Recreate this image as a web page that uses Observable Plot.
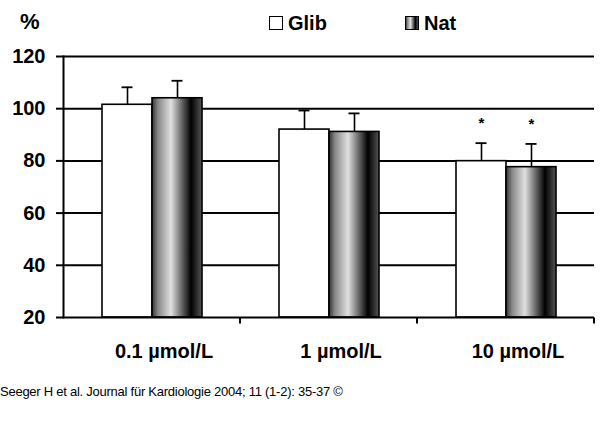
<!DOCTYPE html>
<html><head><meta charset="utf-8">
<script src="https://cdn.jsdelivr.net/npm/d3@7"></script>
<script src="https://cdn.jsdelivr.net/npm/@observablehq/plot@0.6"></script>
<style>
body{margin:0;background:#fff;font-family:"Liberation Sans",Arial,sans-serif;}
#wrap{position:relative;width:600px;height:426px;background:#fff;}
#ylab{position:absolute;left:20px;top:9px;font-size:22px;font-weight:bold;line-height:26px;}
.leg{position:absolute;top:11px;font-size:20px;font-weight:bold;line-height:24px;display:flex;align-items:center;}
.sw{display:inline-block;width:12px;height:12px;border:1.5px solid #000;margin-right:5px;}
.sw.glib{background:#fff;}
.sw.nat{background:linear-gradient(to right,#333 0%,#888 12%,#e0e0e0 38%,#000 78%,#555 100%);}
#chart{position:absolute;left:0;top:0;}
#cap{position:absolute;left:0;top:384px;font-size:13px;letter-spacing:-0.25px;line-height:16px;color:#000;white-space:nowrap;}
</style></head><body>
<div id="wrap">
 <div id="chart"></div>
 <div id="ylab">%</div>
 <div class="leg" style="left:269px"><span class="sw glib"></span>Glib</div>
 <div class="leg" style="left:405px"><span class="sw nat"></span>Nat</div>
 <div id="cap">Seeger H et al. Journal für Kardiologie 2004; 11 (1-2): 35-37 ©</div>
</div>
<script>
const categories = ["0.1 µmol/L", "1 µmol/L", "10 µmol/L"];
const series = ["Glib", "Nat"];
const glibValues = [101.5, 92.0, 79.9];
const natValues = [104.0, 91.1, 77.6];
const glibErrors = [6.7, 7.3, 6.9];
const natErrors = [6.7, 7.1, 8.9];
const glibSignificant = [false, false, true];
const natSignificant = [false, false, true];
const yTicks = [20, 40, 60, 80, 100, 120];
const baseline = 20;

const rows = categories.flatMap((c, i) => [
  {category: c, series: "Glib", value: glibValues[i], err: glibErrors[i], sig: glibSignificant[i]},
  {category: c, series: "Nat", value: natValues[i], err: natErrors[i], sig: natSignificant[i]}
]);

const chart = Plot.plot({
  width: 600, height: 370,
  marginLeft: 62, marginRight: 6, marginTop: 56, marginBottom: 53,
  style: {fontFamily: "'Liberation Sans', Arial, sans-serif", fontSize: "20px", fontWeight: "bold", color: "black", background: "white", overflow: "visible"},
  fx: {domain: categories, padding: 0, label: null},
  x: {domain: series, paddingInner: 0, paddingOuter: 0.76, axis: null},
  y: {domain: [20, 120], label: null},
  color: {domain: series, range: ["white", "url(#natGrad)"]},
  marks: [
    Plot.ruleY(yTicks.filter(t => t > baseline), {stroke: "black", strokeWidth: 2}),
    Plot.ruleX(rows, {fx: "category", x: "series", y1: "value", y2: d => d.value + d.err, stroke: "black", strokeWidth: 1.6}),
    Plot.tickY(rows, {fx: "category", x: "series", y: d => d.value + d.err, insetLeft: 19.5, insetRight: 19.5, stroke: "black", strokeWidth: 1.8}),
    Plot.barY(rows, {fx: "category", x: "series", y1: baseline, y2: "value", fill: "series", stroke: "black", strokeWidth: 1.6}),
    Plot.text(rows.filter(d => d.sig), {fx: "category", x: "series", y: d => d.value + d.err, text: () => "*", dy: -20, fontSize: 15, fontWeight: "bold"}),
    Plot.ruleY([baseline], {stroke: "black", strokeWidth: 2,
      render(index, scales, values, dimensions, context, next) {
        const g = next(index, scales, values, dimensions, context);
        const xr = scales.x.range();
        const y0 = scales.y(baseline);
        d3.select(g).append("path").attr("d", `M${xr[1]},${y0}V${y0 + 6}`).attr("stroke", "black").attr("stroke-width", 2);
        return g;
      }}),
    Plot.frame({anchor: "left", facetAnchor: "left", stroke: "black", strokeWidth: 2}),
    Plot.axisY({ticks: yTicks, tickSize: 7, tickPadding: 11, strokeWidth: 2, label: null, fontSize: 20}),
    Plot.axisFx({anchor: "bottom", tickSize: 0, tickPadding: 26, dx: 12, label: null, fontSize: 20})
  ]
});

d3.select(chart).insert("defs", ":first-child").html(`
  <linearGradient id="natGrad" x1="0" x2="1" y1="0" y2="0">
    <stop offset="0%" stop-color="#333"/>
    <stop offset="12%" stop-color="#888"/>
    <stop offset="38%" stop-color="#e0e0e0"/>
    <stop offset="78%" stop-color="#000"/>
    <stop offset="100%" stop-color="#555"/>
  </linearGradient>`);

document.getElementById("chart").appendChild(chart);
</script>
</body></html>
